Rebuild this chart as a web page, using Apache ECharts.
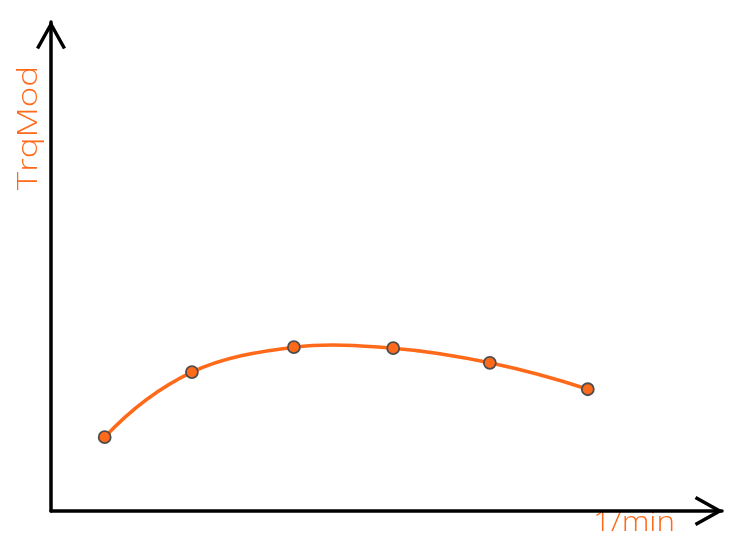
<!DOCTYPE html>
<html><head><meta charset="utf-8">
<script src="https://cdn.jsdelivr.net/npm/echarts@6/dist/echarts.min.js"></script>
<style>html,body{margin:0;padding:0;background:#fff}#c{width:756px;height:554px}</style>
</head><body><div id="c"></div>
<script>
const xValues = [8, 21, 36.2, 51, 65.4, 80];
const yValues = [15.1, 28.4, 33.5, 33.3, 30.3, 24.9];
const xName = '1/min';
const yName = 'TrqMod';

const chevron = 'path://M15,0 L30,27 L26.94,28.7 L15,7.2 L3.06,28.7 L0,27 Z';
const orange = '#FF6A1A';
const textFont = '300 28px "Open Sans", "DejaVu Sans", sans-serif';
const chart = echarts.init(document.getElementById('c'));
const axisCommon = {
  type: 'value', min: 0, max: 100,
  axisLine: { show: true, lineStyle: { color: '#000', width: 3.5 },
    symbol: ['none', chevron], symbolSize: [30, 28.7], symbolOffset: [0, -13] },
  axisTick: { show: false }, axisLabel: { show: false }, splitLine: { show: false }
};
const pts = xValues.map((x, i) => [x, yValues[i]]);
function renderSeg(params, api) {
  const i = params.dataIndex;
  const n = pts.length;
  if (i >= n - 1) return null;
  const c = j => api.coord(pts[j]);
  const p1 = c(i), p2 = c(i + 1);
  // neighbours; at the ends use quadratic extrapolation
  let p0, p3;
  if (i > 0) p0 = c(i - 1);
  else { const q = c(i + 2); p0 = [3 * p1[0] - 3 * p2[0] + q[0], 3 * p1[1] - 3 * p2[1] + q[1]]; }
  if (i + 2 < n) p3 = c(i + 2);
  else { const q = c(i - 1); p3 = [3 * p2[0] - 3 * p1[0] + q[0], 3 * p2[1] - 3 * p1[1] + q[1]]; }
  return {
    type: 'bezierCurve',
    shape: {
      x1: p1[0], y1: p1[1], x2: p2[0], y2: p2[1],
      cpx1: p1[0] + (p2[0] - p0[0]) / 6, cpy1: p1[1] + (p2[1] - p0[1]) / 6,
      cpx2: p2[0] - (p3[0] - p1[0]) / 6, cpy2: p2[1] - (p3[1] - p1[1]) / 6
    },
    style: { stroke: orange, lineWidth: 3.5, fill: null, lineCap: 'round' }
  };
}
chart.setOption({
  animation: false,
  grid: { left: 51, right: 34, top: 22, bottom: 43 },
  xAxis: Object.assign({}, axisCommon),
  yAxis: Object.assign({}, axisCommon),
  graphic: [
    { type: 'text', x: 29, y: 128, rotation: Math.PI / 2, scaleX: 1.25,
      style: { text: yName, fill: orange, font: textFont, textAlign: 'center', textVerticalAlign: 'middle' } },
    { type: 'text', x: 634, y: 523, scaleX: 1.12,
      style: { text: xName, fill: orange, font: textFont, textAlign: 'center', textVerticalAlign: 'middle' } }
  ],
  series: [{
    type: 'custom', renderItem: renderSeg, data: pts, encode: { x: 0, y: 1 }, z: 2
  }, {
    type: 'scatter', data: pts, symbol: 'circle', symbolSize: 12, z: 3,
    itemStyle: { color: orange, borderColor: '#4d4d4d', borderWidth: 1.8, opacity: 1 }
  }]
});
</script></body></html>
